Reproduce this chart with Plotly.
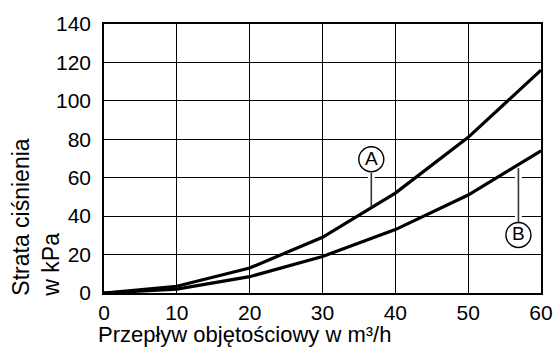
import plotly.graph_objects as go

flow = [0, 10, 20, 30, 40, 50, 60]
loss_a = [0, 3.5, 13, 29, 52, 81, 116]
loss_b = [0, 2, 8.5, 19, 33, 51, 74]
x_ticks = [0, 10, 20, 30, 40, 50, 60]
y_ticks = [0, 20, 40, 60, 80, 100, 120, 140]

FONT = "Liberation Sans, Arial, sans-serif"

fig = go.Figure()
fig.add_trace(go.Scatter(x=flow, y=loss_a, mode="lines", line=dict(color="black", width=3.2), name="A"))
fig.add_trace(go.Scatter(x=flow, y=loss_b, mode="lines", line=dict(color="black", width=3.2), name="B"))

axis_common = dict(showgrid=True, gridcolor="black", gridwidth=1.3, zeroline=False,
                   showline=True, linecolor="black", linewidth=1.6, mirror=True,
                   automargin=False,
                   ticks="", tickfont=dict(size=21, color="black", family=FONT))
fig.update_xaxes(range=[0, 60], tickvals=x_ticks, ticklabelstandoff=0, **axis_common)
fig.update_yaxes(range=[0, 140], tickvals=y_ticks, ticklabelstandoff=7, **axis_common)

# leader lines with white halo
ax, ay0, ay1 = 36.7, 62.5, 44.8
bx, by0, by1 = 56.9, 37.0, 65.0
shapes = []
shapes.append(dict(type="line", xref="x", yref="y", x0=ax, x1=ax, y0=ay0 - 1, y1=ay1 + 3,
                   line=dict(color="white", width=7), layer="above"))
shapes.append(dict(type="line", xref="x", yref="y", x0=ax, x1=ax, y0=ay0, y1=ay1,
                   line=dict(color="#333", width=1.6), layer="above"))
shapes.append(dict(type="line", xref="x", yref="y", x0=bx, x1=bx, y0=by0 + 1, y1=by1 - 3,
                   line=dict(color="white", width=7), layer="above"))
shapes.append(dict(type="line", xref="x", yref="y", x0=bx, x1=bx, y0=by0, y1=by1,
                   line=dict(color="#333", width=1.6), layer="above"))
for cx, cy in [(ax, 69.6), (bx, 30.2)]:
    shapes.append(dict(type="circle", xref="x", yref="y", xsizemode="pixel", ysizemode="pixel",
                       xanchor=cx, yanchor=cy, x0=-12.5, x1=12.5, y0=-12.5, y1=12.5,
                       line=dict(color="black", width=1.4), fillcolor="white", layer="above"))

annotations = [
    dict(x=ax, y=69.6, xref="x", yref="y", text="A", showarrow=False, yshift=1,
         font=dict(size=19, color="black", family=FONT)),
    dict(x=bx, y=30.2, xref="x", yref="y", text="B", showarrow=False, yshift=1,
         font=dict(size=19, color="black", family=FONT)),
    dict(x=-0.225, y=0, xref="paper", yref="y", xanchor="left", yanchor="bottom", yshift=-6,
         text="Strata ciśnienia<br>w kPa", textangle=-90, align="left", showarrow=False,
         font=dict(size=23, color="black", family=FONT)),
    dict(x=-0.018, y=0, xref="paper", yref="paper", xanchor="left", yanchor="bottom",
         yshift=-56, text="Przepływ objętościowy w m³/h", showarrow=False,
         font=dict(size=22, color="black", family=FONT)),
]

fig.update_layout(width=555, height=349, margin=dict(l=104, r=14, t=24, b=56),
                  paper_bgcolor="white", plot_bgcolor="white", showlegend=False,
                  shapes=shapes, annotations=annotations)
fig.write_html("out.html")
